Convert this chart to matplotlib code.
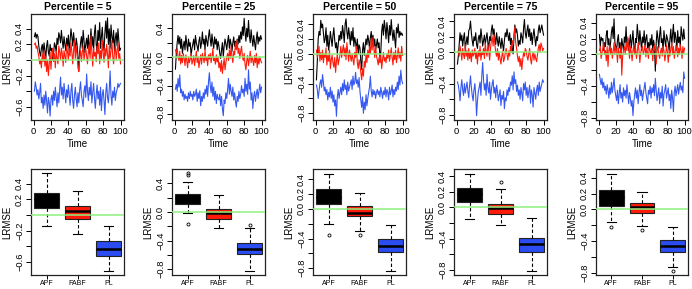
import numpy as np
import matplotlib
matplotlib.use("Agg")
import matplotlib.pyplot as plt

plt.rcParams['font.family'] = ['Liberation Sans', 'DejaVu Sans']

percentiles = [5, 25, 50, 75, 95]
methods = ["APF", "FABF", "PL"]
time = list(range(1, 101))

# ---- time series (LRMSE) per percentile ----
apf_p5 = [.30,.35,.28,.33,.30,.18,.10,.05,.15,.20, .08,.22,.12,.02,.18,.25,.10,.05,.20,.12,
          .15,.00,.08,.22,.18,.10,.28,.20,.35,.30, .22,.38,.25,.15,.30,.20,.12,.28,.18,.32,
          .10,.25,.40,.30,.18,.35,.22,.12,.28,.20, .05,-.14,.10,.22,.30,.15,.38,.25,.10,.20,
          .28,.15,.32,.08,.22,.40,.18,.30,.12,.35, .45,.20,.10,.38,.25,.48,.15,.30,.42,.20,
          .12,.35,.50,.28,.54,.20,.40,.15,.45,.30, .22,.38,.10,.28,.35,.18,.40,.25,.12,.15]
fabf_p5 = [.20,.22,.15,.18,.10,.05,-.05,.00,-.10,.08, -.02,.12,-.08,.05,-.15,.00,-.20,-.05,.10,-.12,
           .05,.15,-.02,.08,-.10,.12,.02,-.05,.18,.10, .00,.15,.08,-.08,.12,.05,-.03,.20,.10,.00,
           .15,.05,.22,.10,-.05,.12,.25,.02,.18,.08, -.10,-.15,.05,.12,-.02,.10,.18,.00,.08,.15,
           .05,-.05,.12,.20,.02,.31,.10,-.08,.15,.05, .10,-.02,.18,.08,.22,-.05,.12,.02,.25,.10,
           -.03,.15,.05,.20,.08,-.10,.18,.02,.12,.25, .05,-.05,.10,.18,.00,.12,.22,.02,.08,-.05]
pl_p5 = [-.40,-.28,-.35,-.45,-.38,-.50,-.42,-.30,-.55,-.48, -.62,-.45,-.58,-.40,-.52,-.68,-.48,-.55,-.72,-.50,
         -.45,-.58,-.40,-.52,-.35,-.48,-.60,-.42,-.55,-.38, -.22,-.45,-.35,-.50,-.30,-.42,-.55,-.38,-.48,-.32,
         -.45,-.58,-.40,-.30,-.52,-.62,-.45,-.35,-.50,-.60, -.42,-.55,-.38,-.28,-.45,-.52,-.60,-.40,-.33,-.48,
         -.18,-.40,-.52,-.35,-.45,-.28,-.55,-.42,-.30,-.48, -.62,-.45,-.32,-.50,-.40,-.58,-.35,-.65,-.45,-.38,
         -.52,-.70,-.42,-.30,-.48,-.55,-.38,-.14,-.45,-.58, -.40,-.48,-.35,-.52,-.42,-.38,-.30,-.35,-.32,-.30]

apf_p25 = [-.17,.05,.20,.30,.18,.28,.12,.25,.05,.15, .22,.10,.30,.18,.08,.25,.15,.20,.02,.12,
           .18,.25,.10,.30,.20,.15,.08,.22,.28,.12, .20,.35,.18,.25,.10,.30,.22,.15,.28,.38,
           .25,.15,.32,.20,.12,.28,.18,.25,.10,.22, .15,.05,-.02,.10,.20,.00,.15,.25,.18,.10,
           .22,.30,.12,.25,.18,.08,.20,.28,.15,.22, .12,.25,.18,.30,.20,.35,.25,.42,.30,.54,
           .35,.22,.40,.28,.51,.30,.20,.38,.25,.15, .30,.20,.10,.25,.35,.18,.28,.22,.30,.25]
fabf_p25 = [.10,.05,.12,.00,-.05,.08,-.10,.02,-.08,.05, -.02,-.12,.03,-.05,-.15,.00,-.08,-.03,.05,-.10,
            -.05,.02,-.12,-.02,.08,-.08,.00,-.15,-.05,.03, -.10,.05,-.02,-.08,.10,-.05,.00,-.12,.03,-.03,
            .05,-.08,.00,.12,-.05,-.02,-.10,.03,-.07,.00, -.15,-.08,-.20,-.05,-.23,-.12,-.02,-.18,-.08,.00,
            .05,-.05,.10,-.02,.15,.00,-.08,.08,.03,.20, .10,.24,.05,.12,-.02,.08,.15,.00,-.05,.05,
            -.10,-.18,-.05,.02,-.12,-.03,.08,-.08,.00,-.05, -.12,.02,-.08,.05,-.15,-.02,-.10,.00,-.05,-.08]
pl_p25 = [-.45,-.38,-.48,-.30,-.42,-.25,-.50,-.45,-.55,-.48, -.60,-.52,-.58,-.55,-.62,-.50,-.58,-.48,-.55,-.52,
          -.60,-.48,-.55,-.52,-.45,-.62,-.50,-.58,-.47,-.68, -.55,-.62,-.50,-.58,-.45,-.52,-.40,-.55,-.35,-.22,
          -.40,-.50,-.35,-.55,-.42,-.60,-.48,-.65,-.52,-.58, -.60,-.52,-.68,-.55,-.72,-.82,-.60,-.65,-.50,-.58,
          -.45,-.30,-.52,-.38,-.48,-.55,-.42,-.60,-.50,-.62, -.70,-.55,-.62,-.48,-.58,-.52,-.40,-.50,-.45,-.55,
          -.30,-.48,-.38,-.52,-.18,-.45,-.35,-.60,-.50,-.72, -.55,-.48,-.62,-.52,-.45,-.58,-.48,-.38,-.50,-.42]

apf_p50 = [-.35,-.10,.20,.30,.25,.45,.35,.40,.28,.15, .20,.35,.10,.25,.05,.15,.30,.20,.10,.25,
           .35,.18,.08,.15,.00,.12,.25,.18,.30,.20, .38,.28,.15,.40,.47,.30,.20,.35,.25,.12,
           .30,.18,.35,.10,.22,.15,.05,.20,.00,.12, .08,-.10,-.21,.05,.15,-.02,.10,.20,.12,.25,
           .18,.08,.22,.30,.15,.25,.10,.20,.05,.12, .20,.08,.15,-.05,.02,.30,.40,.25,.45,.35,
           .20,.42,.30,.15,.38,.25,.46,.30,.18,.32, .20,.08,.35,.28,.40,.22,.30,.25,.28,.25]
fabf_p50 = [.05,-.05,.00,.10,-.10,.02,-.08,.05,-.12,.00, -.05,.08,-.15,-.02,-.10,.05,-.20,-.08,-.02,-.12,
            -.18,-.05,-.25,-.10,.00,-.15,-.08,-.02,.10,-.05, .05,.12,-.03,.08,-.08,.15,.02,-.10,.05,-.03,
            -.10,.00,-.08,-.15,.02,-.05,.10,-.12,-.20,-.08, -.15,-.25,-.35,-.20,-.30,-.10,-.18,.00,-.12,.05,
            -.05,.10,.00,.20,.05,.22,.08,-.05,.10,-.03, -.08,-.15,-.05,-.12,-.02,-.20,-.08,.02,-.10,-.05,
            -.12,.00,-.06,.05,-.10,-.02,.08,-.05,-.15,.02, -.08,.05,-.12,-.03,.08,-.06,.02,-.10,.10,-.02]
pl_p50 = [-.42,-.48,-.60,-.50,-.40,-.35,-.45,-.28,-.38,-.50, -.45,-.55,-.48,-.62,-.52,-.58,-.45,-.60,-.50,-.65,
          -.55,-.70,-.62,-.84,-.58,-.48,-.60,-.52,-.45,-.55, -.40,-.50,-.35,-.48,-.42,-.55,-.38,-.50,-.45,-.40,
          -.35,-.48,-.30,-.42,-.38,-.25,-.40,-.35,-.45,-.32, -.50,-.62,-.72,-.58,-.80,-.65,-.75,-.55,-.70,-.60,
          -.52,-.45,-.30,-.50,-.58,-.48,-.55,-.50,-.60,-.52, -.48,-.55,-.50,-.58,-.45,-.52,-.60,-.50,-.55,-.45,
          -.58,-.48,-.52,-.62,-.45,-.55,-.50,-.42,-.58,-.48, -.55,-.45,-.50,-.38,-.48,-.30,-.42,-.22,-.35,-.40]

apf_p75 = [-.15,-.05,.10,.25,.15,.22,.08,.18,.25,.05, .12,.20,.10,.28,.30,.40,.25,.15,.08,.20,
           .15,.25,.10,.05,.18,.22,.12,.30,.20,.08, .15,.22,.10,.18,.25,.12,.05,.20,.15,.28,
           .35,.22,.30,.18,.10,.25,.15,.08,.20,.12, .05,.18,.10,.02,.15,.25,.20,.30,.22,.15,
           .25,.10,.18,.05,-.02,.20,.35,.25,.30,.22, .08,.15,.10,.25,.20,.12,.30,.42,.25,.18,
           .28,.35,.20,.30,.15,.25,.10,.22,.30,.18, .08,.20,.15,.28,.35,.25,.30,.35,.28,.22]
fabf_p75 = [.00,.02,-.05,.08,.00,-.10,.05,-.03,-.08,.10, -.05,.02,-.10,.05,-.08,.00,-.12,.03,-.05,-.02,
            .05,-.08,.00,-.15,.02,-.05,.08,-.10,.00,-.03, .05,-.08,.12,.00,-.05,.10,.02,-.10,.05,.15,
            .20,.08,.23,.10,.00,-.05,.05,-.10,.00,-.08, -.15,-.05,.02,-.12,-.08,.00,.05,-.03,-.10,.02,
            -.05,.08,.00,.15,.10,.20,.32,.12,.05,-.05, -.12,-.05,-.18,-.08,-.22,-.10,.00,-.05,.05,.02,
            -.05,-.10,-.02,.05,-.08,-.15,-.05,.00,-.10,-.02, -.08,-.12,-.03,.05,.10,.00,.12,.08,.02,.05]
pl_p75 = [-.38,-.42,-.50,-.62,-.45,-.35,-.48,-.55,-.40,-.52, -.45,-.38,-.50,-.58,-.42,-.30,-.45,-.55,-.62,-.48,
          -.40,-.55,-.81,-.62,-.50,-.45,-.38,-.55,-.30,-.13, -.35,-.48,-.40,-.55,-.28,-.45,-.52,-.38,-.60,-.48,
          -.40,-.35,-.52,-.45,-.58,-.42,-.50,-.62,-.55,-.48, -.68,-.55,-.60,-.50,-.72,-.58,-.62,-.48,-.55,-.45,
          -.50,-.38,-.42,-.30,-.48,-.25,-.40,-.35,-.50,-.42, -.55,-.48,-.60,-.45,-.52,-.62,-.40,-.48,-.38,-.55,
          -.45,-.58,-.50,-.42,-.65,-.48,-.55,-.70,-.45,-.52, -.60,-.48,-.42,-.55,-.38,-.50,-.45,-.40,-.35,-.38]

apf_p95 = [.25,.10,.22,.18,.20,.05,.15,.10,.25,.30, .12,.20,.05,.15,.28,.35,.20,.45,.15,.10,
           .05,.18,.25,.08,.15,.00,.20,.12,.05,.22, .15,.35,.10,.20,.05,.15,.25,.08,.18,.30,
           .10,.00,.20,.15,.38,.25,.12,.30,.18,.05, .22,.15,.30,.10,.20,.25,.08,.15,.05,.20,
           .12,.25,.05,.18,.10,-.21,.15,.30,.20,.08, .25,.35,.15,.20,.05,.30,.18,.10,.25,.20,
           .15,.05,.20,.32,.10,.25,.38,.15,.28,.20, .05,.30,.15,.22,.10,.35,.25,.18,.32,.20]
fabf_p95 = [.05,.10,-.05,.02,.08,.15,.00,.05,-.08,.10, -.15,.05,.12,.00,.08,-.05,.03,.15,.00,.10,
            .05,-.10,.08,.02,-.05,.12,-.26,-.02,.05,.10, .00,.15,.05,.22,.08,-.05,.10,.03,-.08,.05,
            .12,.00,.08,-.05,.03,.15,.05,-.10,.02,.08, .10,.00,.05,.12,-.03,.08,.02,-.05,.10,.05,
            .00,.08,-.08,.05,.12,.02,-.12,.05,.10,.00, -.05,.03,.08,-.02,.10,.05,-.08,.00,.12,.03,
            -.10,.05,-.02,.08,.15,.00,.10,-.05,.03,.12, .05,-.03,.08,.00,.12,.05,-.05,.10,.02,.08]
pl_p95 = [-.25,-.32,-.38,-.30,-.42,-.35,-.45,-.40,-.50,-.38, -.45,-.55,-.42,-.50,-.35,-.48,-.40,-.30,-.45,-.52,
          -.58,-.45,-.62,-.50,-.38,-.55,-.48,-.60,-.42,-.52, -.45,-.55,-.38,-.50,-.62,-.48,-.55,-.65,-.58,-.77,
          -.60,-.50,-.42,-.55,-.45,-.62,-.48,-.38,-.52,-.45, -.58,-.50,-.42,-.35,-.48,-.55,-.62,-.45,-.50,-.40,
          -.55,-.42,-.48,-.38,-.52,-.30,-.45,-.58,-.50,-.42, -.62,-.48,-.55,-.40,-.65,-.50,-.45,-.38,-.55,-.48,
          -.42,-.58,-.50,-.68,-.45,-.55,-.72,-.48,-.40,-.52, -.45,-.38,-.50,-.42,-.35,-.45,-.40,-.48,-.22,-.30]

apf_series = [apf_p5, apf_p25, apf_p50, apf_p75, apf_p95]
fabf_series = [fabf_p5, fabf_p25, fabf_p50, fabf_p75, fabf_p95]
pl_series = [pl_p5, pl_p25, pl_p50, pl_p75, pl_p95]

# ---- box summaries read from the lower row: (whislo, q1, med, q3, whishi, fliers) ----
box_apf = [(-0.14, 0.09, 0.205, 0.286, 0.535, []),
           (-0.02, 0.11, 0.19, 0.25, 0.42, [0.54, 0.51, -0.17]),
           (-0.21, 0.07, 0.16, 0.27, 0.468, [-0.35]),
           (-0.15, 0.07, 0.17, 0.25, 0.425, []),
           (-0.16, 0.05, 0.155, 0.24, 0.45, [-0.215])]
box_fabf = [(-0.25, -0.05, 0.055, 0.12, 0.31, []),
            (-0.23, -0.10, -0.02, 0.035, 0.24, []),
            (-0.30, -0.10, -0.06, 0.04, 0.216, [-0.35]),
            (-0.225, -0.085, -0.01, 0.045, 0.23, [0.32]),
            (-0.21, -0.05, 0.03, 0.085, 0.22, [-0.26])]
box_pl = [(-0.72, -0.52, -0.43, -0.34, -0.137, []),
          (-0.82, -0.59, -0.51, -0.43, -0.22, [-0.18]),
          (-0.84, -0.58, -0.50, -0.41, -0.22, []),
          (-0.81, -0.575, -0.47, -0.39, -0.13, []),
          (-0.73, -0.54, -0.465, -0.38, -0.215, [-0.77])]

ylims = [(-0.77, 0.59), (-0.88, 0.60), (-0.89, 0.535), (-0.865, 0.49), (-0.825, 0.51)]
yticks = [-0.8, -0.6, -0.4, -0.2, 0.0, 0.2, 0.4]
ylabels_shown = [
    {0.4: "0.4", 0.2: "0.2", -0.2: "-0.2", -0.6: "-0.6"},
    {0.4: "0.4", 0.0: "0.0", -0.4: "-0.4", -0.8: "-0.8"},
    {0.4: "0.4", 0.2: "0.2", 0.0: "0.0", -0.4: "-0.4", -0.8: "-0.8"},
    {0.4: "0.4", 0.2: "0.2", 0.0: "0.0", -0.4: "-0.4", -0.8: "-0.8"},
    {0.4: "0.4", 0.2: "0.2", 0.0: "0.0", -0.4: "-0.4", -0.8: "-0.8"},
]

col_black = "#000000"
col_red = "#ff1a0a"
col_blue = "#3458f0"
col_green = "#8ef07e"
box_colors = ["#000000", "#ff1a0a", "#2a4cf0"]

W, H = 692, 289
fig = plt.figure(figsize=(W / 100, H / 100), dpi=100)
lefts = [31, 172, 313, 454, 596]
widths = [93, 93, 93, 93, 92]
FS = 7.0
FSY = 6.7


def style_axes(ax, i):
    lo, hi = ylims[i]
    ax.set_ylim(lo, hi)
    ticks = [t for t in yticks if lo <= t <= hi]
    ax.set_yticks(ticks)
    labs = []
    for t in ticks:
        key = round(t, 1)
        s = ylabels_shown[i].get(key, "")
        labs.append(s.replace("-", "\u2212"))
    ax.set_yticklabels(labs, rotation=90, va="center", fontsize=FSY)
    ax.tick_params(axis="both", direction="out", length=3.5, width=0.7, pad=1.5, colors="#000000")
    ax.set_ylabel("LRMSE", fontsize=FS, labelpad=2)
    for sp in ax.spines.values():
        sp.set_linewidth(0.9)
        sp.set_color("#222222")


for i, p in enumerate(percentiles):
    aw = widths[i]
    # top row: time series
    ax = fig.add_axes([lefts[i] / W, 1 - 120 / H, aw / W, 106 / H])
    ax.plot(time, apf_series[i], color=col_black, lw=0.8)
    ax.plot(time, fabf_series[i], color=col_red, lw=0.8)
    ax.plot(time, pl_series[i], color=col_blue, lw=0.8)
    ax.axhline(0, color=col_green, lw=1.1, zorder=5)
    ax.set_xlim(-2.96, 103.96)
    ax.set_xticks([0, 20, 40, 60, 80, 100])
    ax.set_xticklabels(["0", "20", "40", "60", "80", "100"], fontsize=6.8)
    ax.set_xlabel("Time", fontsize=FS, labelpad=2)
    ax.set_title(f"Percentile = {p}", fontsize=7.5, fontweight="bold", pad=3)
    style_axes(ax, i)

    # bottom row: box plots
    bx = fig.add_axes([lefts[i] / W, 1 - 275 / H, aw / W, 106 / H])
    stats = []
    for name, b in zip(methods, [box_apf[i], box_fabf[i], box_pl[i]]):
        wl, q1, md, q3, wh, fl = b
        stats.append(dict(label=name, whislo=wl, q1=q1, med=md, q3=q3, whishi=wh, fliers=fl))
    res = bx.bxp(stats, positions=[1, 2, 3], widths=0.8, patch_artist=True,
                 capwidths=0.3,
                 boxprops=dict(edgecolor="#222222", linewidth=0.8),
                 medianprops=dict(color="#000000", linewidth=1.8),
                 whiskerprops=dict(color="#000000", linewidth=0.8, linestyle=(0, (3, 2))),
                 capprops=dict(color="#000000", linewidth=0.8),
                 flierprops=dict(marker="o", markersize=2.2, markerfacecolor="none",
                                 markeredgecolor="#000000", markeredgewidth=0.6))
    for patch, c in zip(res["boxes"], box_colors):
        patch.set_facecolor(c)
    bx.axhline(0, color=col_green, lw=1.1, zorder=5)
    bx.set_xlim(0.5, 3.5)
    bx.set_xticks([1, 2, 3])
    style_axes(bx, i)
    bx.set_xticklabels(methods, fontsize=5.0)
    bx.tick_params(axis="x", length=3, pad=0.8)

fig.savefig("out.png", dpi=100)
